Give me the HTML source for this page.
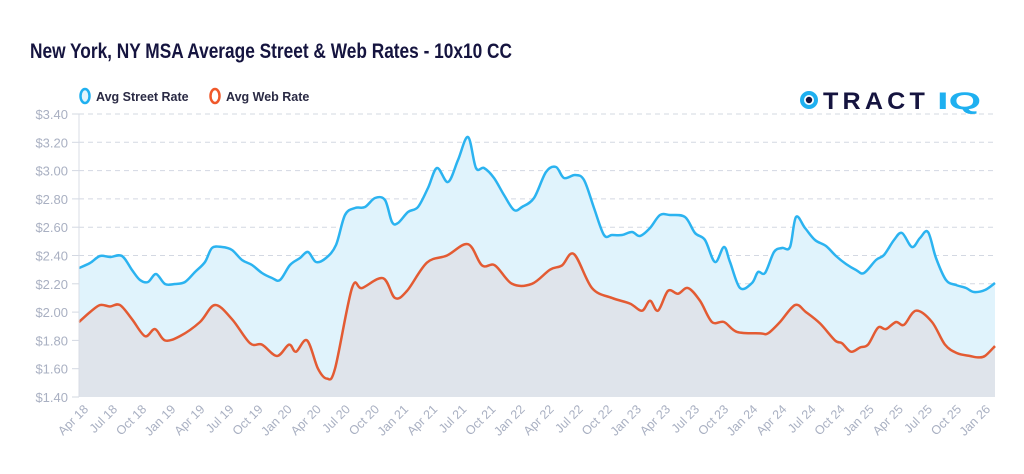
<!DOCTYPE html>
<html><head><meta charset="utf-8"><style>
html,body{margin:0;padding:0;background:#fff;width:1024px;height:474px;overflow:hidden}
svg{display:block;font-family:"Liberation Sans",sans-serif}
</style></head><body>
<svg id="s" width="1024" height="474" viewBox="0 0 1024 474">
<text x="30" y="58" font-size="21" font-weight="bold" fill="#15143f" textLength="482" lengthAdjust="spacingAndGlyphs">New York, NY MSA Average Street &amp; Web Rates - 10x10 CC</text>
<ellipse cx="85" cy="96" rx="4.5" ry="7" fill="#e1f4fc" stroke="#1fb0f0" stroke-width="2.5"/>
<text x="96" y="101" font-size="12.5" font-weight="bold" fill="#2a2a44">Avg Street Rate</text>
<ellipse cx="215" cy="96" rx="4.5" ry="7" fill="#fff" stroke="#f0582a" stroke-width="2.5"/>
<text x="226" y="101" font-size="12.5" font-weight="bold" fill="#2a2a44">Avg Web Rate</text>
<g id="grid"></g>
<g id="series"></g>
<line x1="79" y1="114" x2="79" y2="397" stroke="#d8dce6" stroke-width="1"/>
<g id="xl" font-size="12.5" fill="#a9b0c2"></g>
<g transform="translate(800,89)">
<circle cx="9" cy="11" r="7" fill="none" stroke="#1fb0f0" stroke-width="4"/>
<circle cx="9" cy="11" r="3.2" fill="#15143f"/>
<text x="23" y="20" font-size="24" font-weight="bold" fill="#15143f" textLength="106" lengthAdjust="spacingAndGlyphs" letter-spacing="4">TRACT</text>
<text x="137" y="20" font-size="24" font-weight="bold" fill="#1fb0f0" textLength="44" lengthAdjust="spacingAndGlyphs">IQ</text>
</g>
</svg>
<script>
var NS="http://www.w3.org/2000/svg";
function el(t,a,p){var e=document.createElementNS(NS,t);for(var k in a)e.setAttribute(k,a[k]);p.appendChild(e);return e;}
var grid=document.getElementById("grid");
for(var i=0;i<=10;i++){var y=397-i*28.3;var v=(1.4+i*0.2).toFixed(2);
 if(i>0)el("line",{x1:79,y1:y,x2:995,y2:y,stroke:"#d3d8e2","stroke-dasharray":"5,4"},grid);
 el("line",{x1:72,y1:y,x2:79,y2:y,stroke:"#d3d8e2"},grid);
 var t=el("text",{x:68,y:y+5,"font-size":13,fill:"#a9b0c2","text-anchor":"end"},grid);t.textContent="$"+v;}
var blue=[[79,268],[90,263],[100,256],[110,257],[122,256],[132,270],[140,280],[148,282],[156,274],[165,284],[175,284],[185,282],[195,272],[205,262],[212,248],[222,247],[232,250],[242,260],[252,265],[262,273],[272,278],[280,280],[290,265],[300,258],[308,252],[316,262],[326,258],[336,245],[345,215],[355,208],[365,207],[375,198],[385,200],[392,222],[398,223],[408,212],[418,207],[428,188],[437,168],[448,182],[458,160],[468,137],[476,168],[484,168],[494,178],[504,195],[514,210],[522,207],[534,198],[546,172],[556,167],[564,178],[575,175],[584,180],[594,208],[604,235],[612,235],[622,235],[632,232],[640,236],[650,228],[660,215],[670,215],[685,217],[695,233],[705,240],[715,262],[724,247],[730,262],[740,288],[752,283],[758,272],[765,273],[774,252],[782,248],[790,247],[796,217],[805,228],[815,240],[826,246],[836,256],[846,264],[856,270],[864,273],[876,260],[884,255],[894,240],[902,233],[912,247],[920,238],[928,232],[936,258],[946,280],[956,285],[966,288],[974,292],[985,290],[995,283]];
function vy(v){return 397-(v-1.4)*141.5;}
var w=[[79,1.93],[90,2.0],[100,2.05],[110,2.04],[120,2.05],[132,1.95],[145,1.83],[155,1.88],[165,1.80],[180,1.83],[200,1.93],[215,2.05],[232,1.95],[250,1.78],[262,1.77],[277,1.69],[289,1.77],[296,1.72],[307,1.80],[318,1.60],[327,1.53],[335,1.60],[352,2.17],[362,2.17],[383,2.24],[395,2.10],[407,2.15],[427,2.35],[447,2.40],[468,2.48],[482,2.33],[495,2.33],[512,2.20],[532,2.20],[550,2.30],[562,2.33],[574,2.41],[592,2.17],[612,2.10],[630,2.06],[642,2.01],[650,2.08],[658,2.01],[668,2.15],[678,2.13],[688,2.17],[700,2.08],[712,1.93],[724,1.93],[737,1.86],[760,1.85],[768,1.85],[780,1.93],[795,2.05],[806,2.00],[820,1.92],[835,1.80],[842,1.78],[851,1.72],[860,1.75],[868,1.77],[878,1.89],[886,1.88],[896,1.93],[904,1.91],[916,2.01],[932,1.93],[945,1.77],[957,1.71],[970,1.69],[978,1.68],[985,1.69],[995,1.76]];
var web=w.map(function(p){return [p[0],vy(p[1])];});
function smooth(p){var d="M"+p[0][0]+","+p[0][1];for(var i=0;i<p.length-1;i++){var p0=p[i-1]||p[i],p1=p[i],p2=p[i+1],p3=p[i+2]||p2;var c1x=p1[0]+(p2[0]-p0[0])/6,c1y=p1[1]+(p2[1]-p0[1])/6,c2x=p2[0]-(p3[0]-p1[0])/6,c2y=p2[1]-(p3[1]-p1[1])/6;d+=" C"+c1x.toFixed(1)+","+c1y.toFixed(1)+" "+c2x.toFixed(1)+","+c2y.toFixed(1)+" "+p2[0]+","+p2[1];}return d;}
var g=document.getElementById("series");
var bd=smooth(blue),wd=smooth(web);
el("path",{d:bd+" L995,397 L79,397 Z",fill:"#e0f3fc"},g);
el("path",{d:wd+" L995,397 L79,397 Z",fill:"#dfe4eb"},g);
el("path",{d:bd,fill:"none",stroke:"#2bb3f0","stroke-width":2.5},g);
el("path",{d:wd,fill:"none",stroke:"#e35b33","stroke-width":2.5},g);
var xl=document.getElementById("xl");var mon=["Apr","Jul","Oct","Jan"];
for(var i=0;i<32;i++){var yr=18+Math.floor((i+1)/4);var lab=mon[i%4]+" "+yr;var x=89+i*29.1,y=410;
 var t=el("text",{x:x,y:y,"text-anchor":"end",transform:"rotate(-45 "+x+" "+y+")"},xl);t.textContent=lab;}
</script>
</body></html>
